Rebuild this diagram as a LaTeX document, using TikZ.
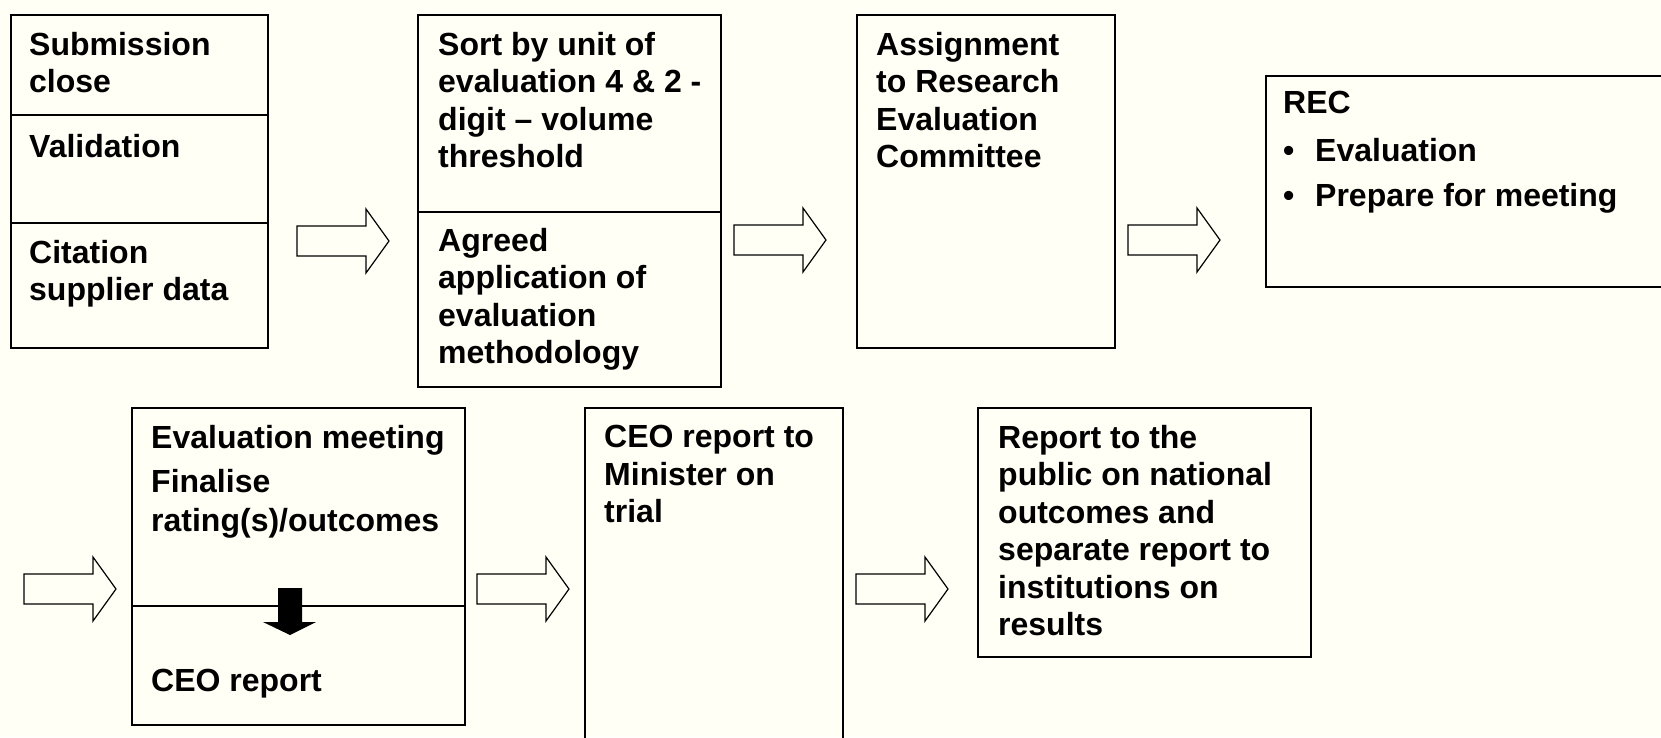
\documentclass[tikz,border=0pt]{standalone}
\usepackage{fontspec}
\setmainfont{Liberation Sans}
\definecolor{paper}{RGB}{255,255,246}

\begin{document}
\begin{tikzpicture}[x=1pt,y=-1pt,
  box/.style={draw, line width=2pt, anchor=north west, inner sep=0pt},
  txt/.style={anchor=north west, inner sep=0pt, align=left, font=\fontsize{32}{37.5}\selectfont\bfseries},
  flow/.pic={\path[draw,line width=1.2pt] (0,-15) -- (69,-15) -- (69,-32) -- (92,0) -- (69,32) -- (69,15) -- (0,15) -- cycle;}]
\path[use as bounding box, fill=paper] (0,0) rectangle (1661,737);

\node[box, minimum width=257pt, minimum height=333pt] (sub) at (10,14) {};
\node[box, minimum width=303pt, minimum height=372pt] (sort) at (417,14) {};
\node[box, minimum width=258pt, minimum height=333pt] (assign) at (856,14) {};
\node[box, minimum width=420pt, minimum height=211pt] (rec) at (1265,75) {};
\node[box, minimum width=333pt, minimum height=317pt] (meet) at (131,407) {};
\node[box, minimum width=258pt, minimum height=350pt] (minister) at (584,407) {};
\node[box, minimum width=333pt, minimum height=249pt] (public) at (977,407) {};

\path[draw,line width=2pt] (sub.west |- 0,115) -- (sub.east |- 0,115);
\path[draw,line width=2pt] (sub.west |- 0,223) -- (sub.east |- 0,223);
\path[draw,line width=2pt] (sort.west |- 0,212) -- (sort.east |- 0,212);
\path[draw,line width=2pt] (meet.west |- 0,606) -- (meet.east |- 0,606);

\node[txt] (subt) at (29,32) {Submission\\close};
\node[txt] (valt) at (29,134) {Validation};
\node[txt] (citt) at (29,240) {Citation\\supplier data};
\node[txt] (sortt) at (438,32) {Sort by unit of\\evaluation 4 \& 2 -\\digit – volume\\threshold};
\node[txt] (agrt) at (438,228) {Agreed\\application of\\evaluation\\methodology};
\node[txt] (asst) at (876,32) {Assignment\\to Research\\Evaluation\\Committee};
\node[txt] (rect) at (1283,91) {REC\\[10pt]\makebox[32pt][l]{•}Evaluation\\[8pt]\makebox[32pt][l]{•}Prepare for meeting};
\node[txt] (meett) at (151,425) {Evaluation meeting\\[7pt]Finalise\\[1pt]rating(s)/outcomes};
\node[txt] (ceot) at (151,669) {CEO report};
\node[txt] (mint) at (604,425) {CEO report to\\Minister on\\trial};
\node[txt] (pubt) at (998,425) {Report to the\\public on national\\outcomes and\\separate report to\\institutions on\\results};

\pic (a1) at (297,241) {flow};
\pic (a2) at (734,240) {flow};
\pic (a3) at (1128,240) {flow};
\pic (a4) at (24,589) {flow};
\pic (a5) at (477,589) {flow};
\pic (a6) at (856,589) {flow};

%\path[draw,line width=2pt] (meet.north) -- (meet.south);
\path[fill=black] (278,588) -- (302,588) -- (302,622) -- (316,622) -- (290,635) -- (263,622) -- (278,622) -- cycle;
\end{tikzpicture}
\end{document}
